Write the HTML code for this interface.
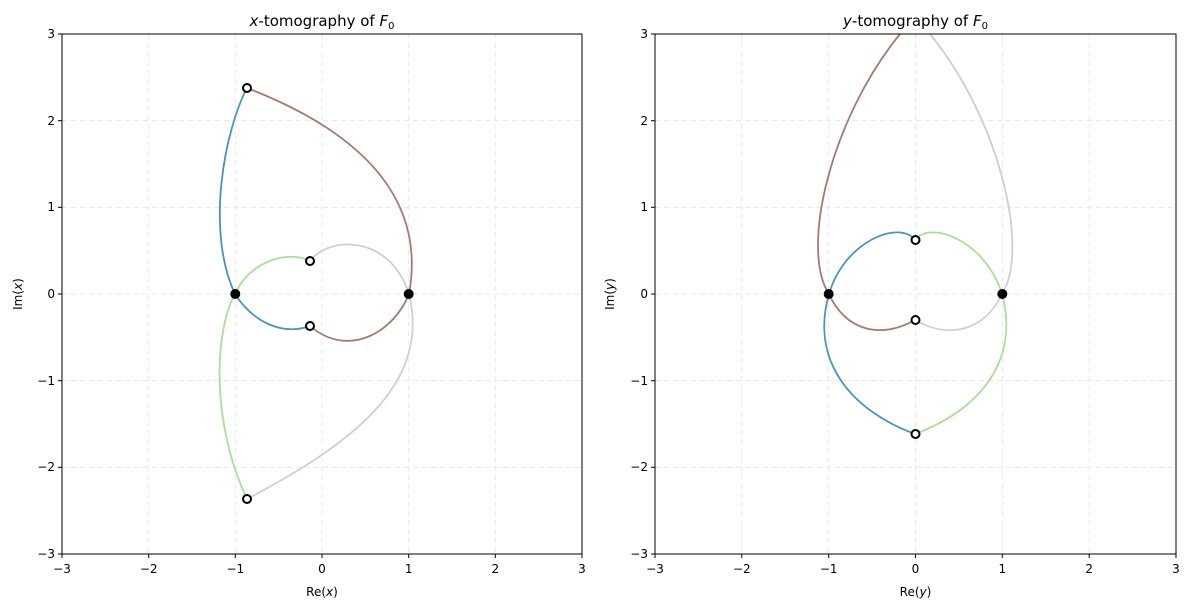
<!DOCTYPE html>
<html><head><meta charset="utf-8"><style>
body{margin:0;background:#fff}
svg text{font-family:"DejaVu Sans","Liberation Sans",sans-serif;font-size:12px;fill:#000}
</style></head><body>
<svg width="1189" height="611" xmlns="http://www.w3.org/2000/svg">
<g id="L">
<g stroke="#e3e3e3" stroke-dasharray="5,4" stroke-width="0.8">
<line x1="148.7" y1="34" x2="148.7" y2="554"/><line x1="235.3" y1="34" x2="235.3" y2="554"/><line x1="322" y1="34" x2="322" y2="554"/><line x1="408.7" y1="34" x2="408.7" y2="554"/><line x1="495.3" y1="34" x2="495.3" y2="554"/>
<line x1="62" y1="120.7" x2="582" y2="120.7"/><line x1="62" y1="207.3" x2="582" y2="207.3"/><line x1="62" y1="294" x2="582" y2="294"/><line x1="62" y1="380.7" x2="582" y2="380.7"/><line x1="62" y1="467.3" x2="582" y2="467.3"/>
</g>
<g fill="none" stroke-width="1.8">
<path d="M247,88 C225,130 205,230 235,294 C255,325 285,335 310,326" stroke="#4a92c4"/>
<path d="M247,88 C330,120 430,180 409,294 C395,330 350,360 310,326" stroke="#a47b70"/>
<path d="M310,261 C290,250 250,260 235,294 C215,330 210,420 247,499" stroke="#a8df96"/>
<path d="M310,261 C330,235 390,235 409,294 C430,380 360,440 247,499" stroke="#cfcfcf"/>
</g>
<g fill="#fff" stroke="#000" stroke-width="2"><circle cx="247" cy="88" r="4"/><circle cx="310" cy="261" r="4"/><circle cx="310" cy="326" r="4"/><circle cx="247" cy="499" r="4"/></g>
<circle cx="235.3" cy="294" r="5" fill="#000"/><circle cx="408.7" cy="294" r="5" fill="#000"/>
<rect x="62" y="34" width="520" height="520" fill="none" stroke="#000" stroke-width="1"/>
<g stroke="#000"><line x1="62" y1="554" x2="62" y2="558"/><line x1="148.7" y1="554" x2="148.7" y2="558"/><line x1="235.3" y1="554" x2="235.3" y2="558"/><line x1="322" y1="554" x2="322" y2="558"/><line x1="408.7" y1="554" x2="408.7" y2="558"/><line x1="495.3" y1="554" x2="495.3" y2="558"/><line x1="582" y1="554" x2="582" y2="558"/>
<line x1="58" y1="34" x2="62" y2="34"/><line x1="58" y1="120.7" x2="62" y2="120.7"/><line x1="58" y1="207.3" x2="62" y2="207.3"/><line x1="58" y1="294" x2="62" y2="294"/><line x1="58" y1="380.7" x2="62" y2="380.7"/><line x1="58" y1="467.3" x2="62" y2="467.3"/><line x1="58" y1="554" x2="62" y2="554"/></g>
<g text-anchor="middle"><text x="62" y="573">−3</text><text x="148.7" y="573">−2</text><text x="235.3" y="573">−1</text><text x="322" y="573">0</text><text x="408.7" y="573">1</text><text x="495.3" y="573">2</text><text x="582" y="573">3</text></g>
<g text-anchor="end"><text x="55" y="38">3</text><text x="55" y="125">2</text><text x="55" y="211">1</text><text x="55" y="298">0</text><text x="55" y="385">−1</text><text x="55" y="471">−2</text><text x="55" y="558">−3</text></g>
<text x="322" y="596" text-anchor="middle">Re(<tspan font-style="italic">x</tspan>)</text>
<text transform="translate(22,294) rotate(-90)" text-anchor="middle">Im(<tspan font-style="italic">x</tspan>)</text>
<text x="322" y="26" text-anchor="middle" style="font-size:15px"><tspan font-style="italic">x</tspan>-tomography of <tspan font-style="italic">F</tspan><tspan font-size="10" dy="3">0</tspan></text>
</g>
<g id="R">
<g stroke="#e3e3e3" stroke-dasharray="5,4" stroke-width="0.8">
<line x1="741.8" y1="34" x2="741.8" y2="554"/><line x1="828.7" y1="34" x2="828.7" y2="554"/><line x1="915.5" y1="34" x2="915.5" y2="554"/><line x1="1002.3" y1="34" x2="1002.3" y2="554"/><line x1="1089.2" y1="34" x2="1089.2" y2="554"/>
<line x1="655" y1="120.7" x2="1176" y2="120.7"/><line x1="655" y1="207.3" x2="1176" y2="207.3"/><line x1="655" y1="294" x2="1176" y2="294"/><line x1="655" y1="380.7" x2="1176" y2="380.7"/><line x1="655" y1="467.3" x2="1176" y2="467.3"/>
</g>
<g fill="none" stroke-width="1.8">
<path d="M900,34 C830,120 800,250 829,294 C845,330 880,340 915,320" stroke="#a47b70"/>
<path d="M930,34 C1000,120 1030,250 1002,294 C985,330 950,340 915,320" stroke="#cfcfcf"/>
<path d="M829,294 C845,240 900,220 915,240 M829,294 C810,360 850,410 915,434" stroke="#4a92c4"/>
<path d="M915,240 C930,220 985,240 1002,294 M1002,294 C1020,360 980,410 915,434" stroke="#a8df96"/>
</g>
<g fill="#fff" stroke="#000" stroke-width="2"><circle cx="915.5" cy="240" r="4"/><circle cx="915.5" cy="320" r="4"/><circle cx="915.5" cy="434" r="4"/></g>
<circle cx="828.7" cy="294" r="5" fill="#000"/><circle cx="1002.3" cy="294" r="5" fill="#000"/>
<rect x="655" y="34" width="521" height="520" fill="none" stroke="#000" stroke-width="1"/>
<g stroke="#000"><line x1="655" y1="554" x2="655" y2="558"/><line x1="741.8" y1="554" x2="741.8" y2="558"/><line x1="828.7" y1="554" x2="828.7" y2="558"/><line x1="915.5" y1="554" x2="915.5" y2="558"/><line x1="1002.3" y1="554" x2="1002.3" y2="558"/><line x1="1089.2" y1="554" x2="1089.2" y2="558"/><line x1="1176" y1="554" x2="1176" y2="558"/>
<line x1="651" y1="34" x2="655" y2="34"/><line x1="651" y1="120.7" x2="655" y2="120.7"/><line x1="651" y1="207.3" x2="655" y2="207.3"/><line x1="651" y1="294" x2="655" y2="294"/><line x1="651" y1="380.7" x2="655" y2="380.7"/><line x1="651" y1="467.3" x2="655" y2="467.3"/><line x1="651" y1="554" x2="655" y2="554"/></g>
<g text-anchor="middle"><text x="655" y="573">−3</text><text x="741.8" y="573">−2</text><text x="828.7" y="573">−1</text><text x="915.5" y="573">0</text><text x="1002.3" y="573">1</text><text x="1089.2" y="573">2</text><text x="1176" y="573">3</text></g>
<g text-anchor="end"><text x="648" y="38">3</text><text x="648" y="125">2</text><text x="648" y="211">1</text><text x="648" y="298">0</text><text x="648" y="385">−1</text><text x="648" y="471">−2</text><text x="648" y="558">−3</text></g>
<text x="915.5" y="596" text-anchor="middle">Re(<tspan font-style="italic">y</tspan>)</text>
<text transform="translate(614,294) rotate(-90)" text-anchor="middle">Im(<tspan font-style="italic">y</tspan>)</text>
<text x="915.5" y="26" text-anchor="middle" style="font-size:15px"><tspan font-style="italic">y</tspan>-tomography of <tspan font-style="italic">F</tspan><tspan font-size="10" dy="3">0</tspan></text>
</g>
</svg>
</body></html>
